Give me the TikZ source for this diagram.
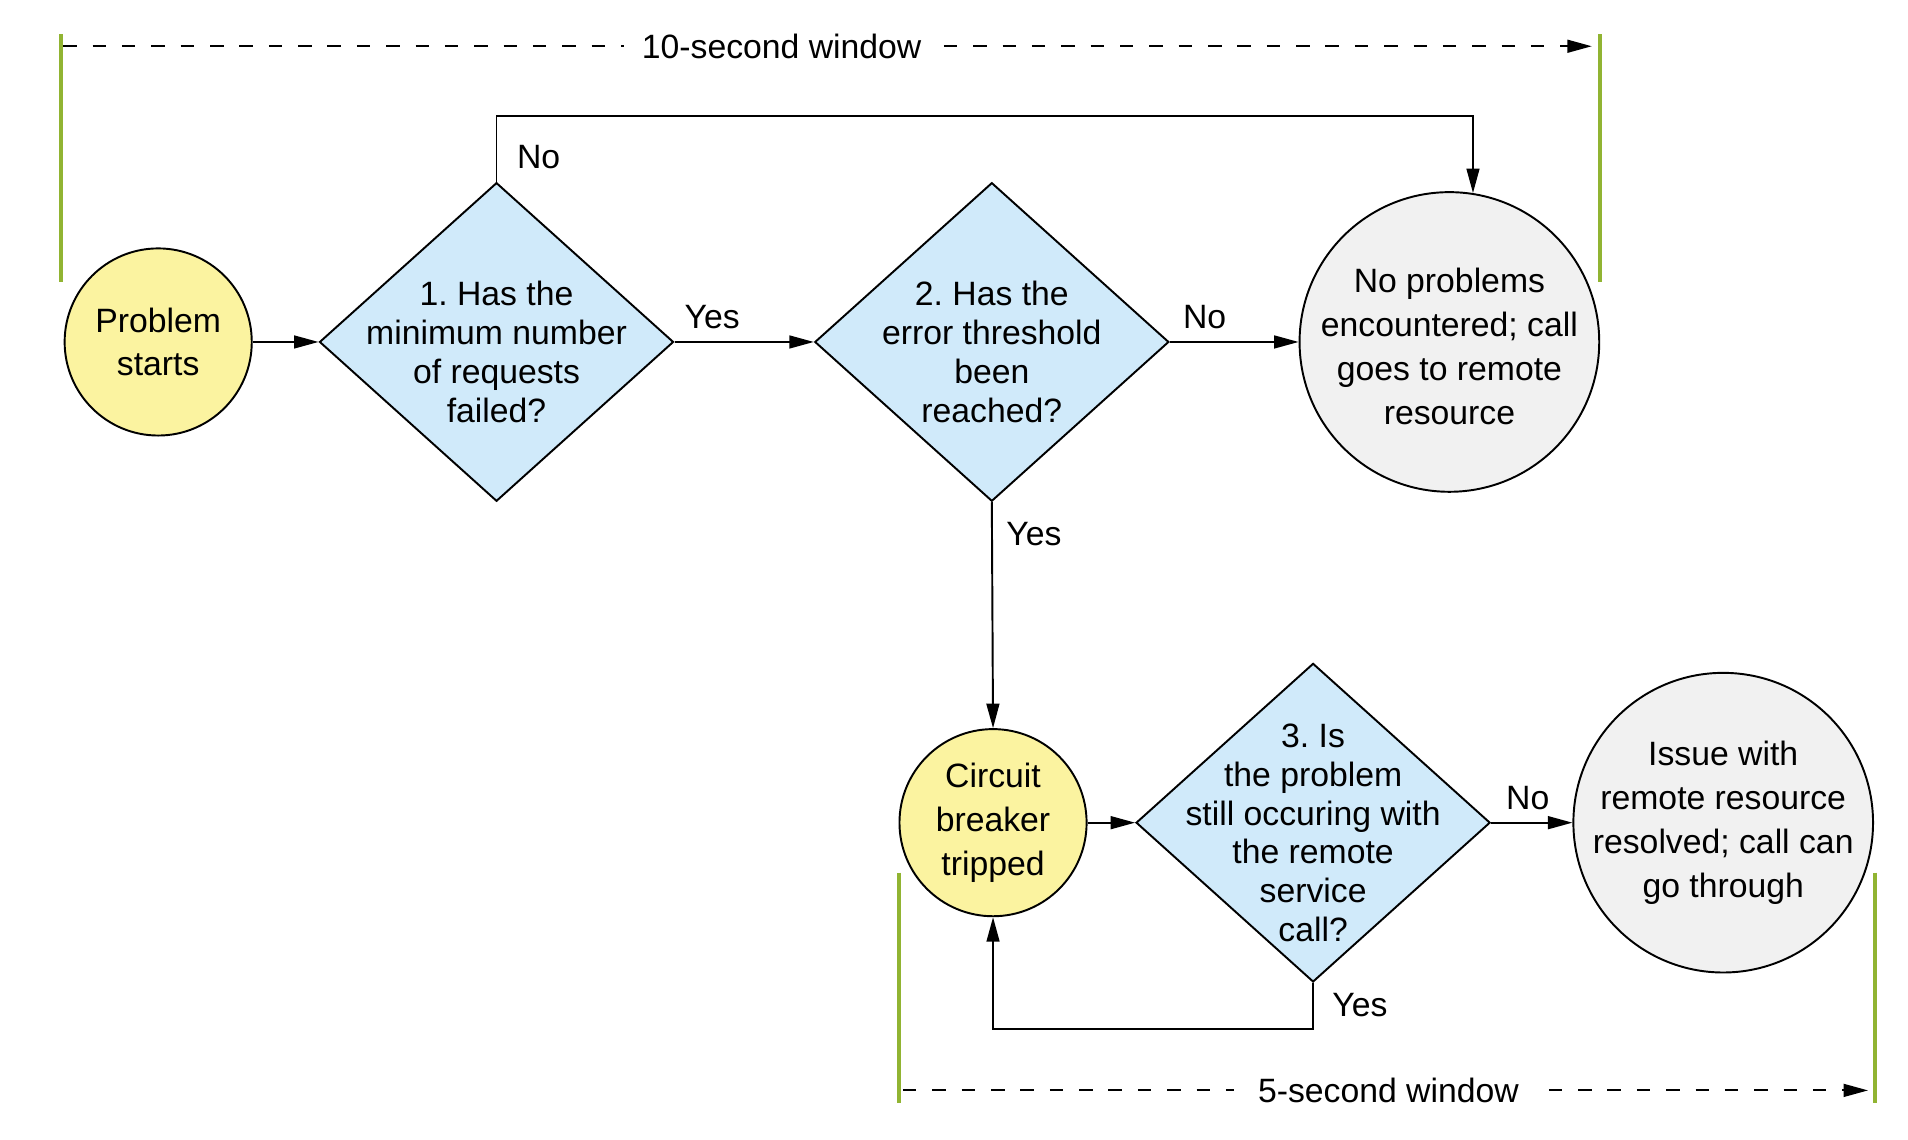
\documentclass[tikz,border=0pt]{standalone}
\usepackage{fontspec}
\setmainfont{Liberation Sans}
\frenchspacing
\usetikzlibrary{shapes.geometric,arrows.meta}
\definecolor{startyellow}{RGB}{251,243,160}
\definecolor{askblue}{RGB}{208,234,250}
\definecolor{endgray}{RGB}{241,241,241}
\definecolor{bargreen}{RGB}{145,180,50}
\newcommand{\asktop}{\rule{0pt}{0.72cm}}
\tikzset{
  startnode/.style={circle, draw, line width=0.9pt, fill=startyellow, minimum size=3.06cm, inner sep=0pt, align=center, font=\fontsize{15.7}{20.4}\selectfont},
  endnode/.style={circle, draw, line width=0.9pt, fill=endgray, minimum size=4.9cm, inner sep=-6pt, align=center, font=\fontsize{15.7}{20.4}\selectfont},
  asknode/.style={diamond, draw, line width=0.9pt, fill=askblue, minimum width=5.79cm, minimum height=5.21cm, inner xsep=-2cm, inner ysep=-1.2cm, align=center, font=\fontsize{15.7}{18.1}\selectfont},
  flow/.style={-{Triangle[length=0.4cm,width=0.21cm]}, line width=0.9pt},
  answer/.style={font=\fontsize{15.7}{19}\selectfont, inner sep=0pt},
  window/.style={-{Triangle[length=0.4cm,width=0.21cm]}, line width=0.95pt, dash pattern=on 0.22cm off 0.26cm},
  windowtext/.style={font=\fontsize{15.7}{19}\selectfont, fill=white, inner xsep=0.3cm, inner ysep=2pt},
  bar/.style={draw=bargreen, line width=1.9pt}
}
\begin{document}
\begin{tikzpicture}[x=0.995cm, y=0.995cm]
  \useasboundingbox (0cm,0cm) rectangle (31.2cm,-18.64cm);
  % first row
  \node[startnode] (ps) at (2.6,-5.62) {Problem\\starts};
  \node[asknode] (d1) at (8.16,-5.62) {\asktop 1. Has the\\minimum number\\of requests\\failed?};
  \node[asknode] (d2) at (16.3,-5.62) {\asktop 2. Has the\\error threshold\\been\\reached?};
  \node[endnode] (np) at (23.82,-5.62) {\rule{0pt}{0.55cm}No problems\\encountered; call\\goes to remote\\resource};
  % second row
  \node[startnode] (cb) at (16.32,-13.52) {Circuit\\breaker\\tripped};
  \node[asknode] (d3) at (21.58,-13.52) {\asktop 3. Is\\the problem\\still occuring with\\the remote\\service\\call?};
  \node[endnode] (ir) at (28.32,-13.52) {Issue with\\remote resource\\resolved; call can\\go through};
  % connectors
  \draw[flow] (ps.east) -- (d1.west);
  \draw[flow] (d1.east) -- (d2.west) node[answer, pos=0.27, above=0.2cm] (y1) {Yes};
  \draw[flow] (d2.east) -- (np.west) node[answer, pos=0.27, above=0.2cm] (n2) {No};
  \draw[flow] (d1.north) -- ++(0,1.08) node[answer, pos=0.37, right=0.32cm] (n1) {No} -| (np.81);
  \draw[flow] (d2.south) -- (cb.north) node[answer, pos=0.14, right=0.22cm] (y2) {Yes};
  \draw[flow] (cb.east) -- (d3.west);
  \draw[flow] (d3.east) -- (ir.west) node[answer, pos=0.45, above=0.2cm] (n3) {No};
  \draw[flow] (d3.south) -- ++(0,-0.76) node[answer, pos=0.47, right=0.3cm] (y3) {Yes} -| (cb.south);
  % time windows
  \draw[bar] (1.0,-0.56) -- (1.0,-4.64);
  \draw[bar] (26.3,-0.56) -- (26.3,-4.64);
  \coordinate (w10s) at (1.04,-0.76);
  \coordinate (w10e) at (26.16,-0.76);
  \draw[window] (w10s) -- (w10e) node[windowtext, pos=0.47] (w10) {10-second window};
  \draw[bar] (14.78,-14.34) -- (14.78,-18.12);
  \draw[bar] (30.82,-14.34) -- (30.82,-18.12);
  \coordinate (w5s) at (14.84,-17.92);
  \coordinate (w5e) at (30.7,-17.92);
  \draw[window] (w5s) -- (w5e) node[windowtext, pos=0.503, inner xsep=0.4cm] (w5) {5-second window};
\end{tikzpicture}
\end{document}
